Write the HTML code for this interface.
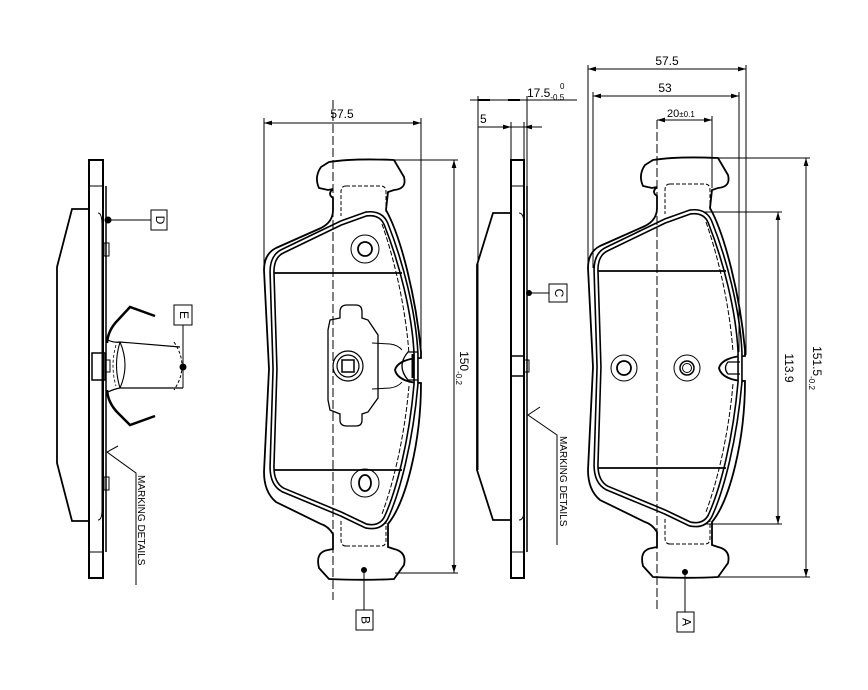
<!DOCTYPE html>
<html><head><meta charset="utf-8"><style>
html,body{margin:0;padding:0;background:#fff}
svg{display:block}
text{font-family:"Liberation Sans",sans-serif;fill:#000}
</style></head><body>
<svg width="868" height="690" viewBox="0 0 868 690" xmlns="http://www.w3.org/2000/svg">
<defs>
<marker id="ar" viewBox="0 0 10 6" refX="10" refY="3" markerWidth="8" markerHeight="5" orient="auto-start-reverse"><path d="M0,0 L10,3 L0,6 Z" fill="#000"/></marker>
<g id="plate">
  <path d="M653,160 C672,157 695,157 718,158 L728,175 Q731,187 718,188 L712,190 L710,208 C725,235 740,295 745,350 L745,356 C733,356 721,360 719,368 C721,377 733,381 745,381 C745,440 730,500 712,522 L712,545 L718,547 Q731,550 728,563 L718,577 C700,578 675,578 653,577 L643,566 Q639,550 652,548 L657,547 L657,532 Q652,524 645,522 L600,500 Q588,490 588,470 L593,367 L588,268 Q588,252 600,246 L645,226 Q657,220 657,208 L657,196 Q651,192 657,187 L652,188 L643,186 Q638,175 645,165 Z" fill="none" stroke="#000" stroke-width="1.8"/>
  <path d="M670,184 L705,184 Q710,184 710,190 L710,210 M670,184 Q665,184 665,190 L665,214 M670,544 L705,544 Q710,544 710,538 L710,520 M670,544 Q665,544 665,538 L665,518" fill="none" stroke="#000" stroke-width="1" stroke-dasharray="4,2"/>
  <path d="M665,221 L690,212 Q705,210 710,222 C725,260 738,310 740,352 L740,382 C735,440 722,490 710,516 Q704,527 690,524 L665,512 L607,488 Q596,482 596,465 L599,367 L596,270 Q596,254 607,249 Z" fill="none" stroke="#000" stroke-width="5.5"/>
  <path d="M665,221 L690,212 Q705,210 710,222 C725,260 738,310 740,352 L740,382 C735,440 722,490 710,516 Q704,527 690,524 L665,512 L607,488 Q596,482 596,465 L599,367 L596,270 Q596,254 607,249 Z" fill="none" stroke="#fff" stroke-width="2.3"/>
  <path d="M706,222 C720,262 730,310 733,352 M733,384 C728,440 716,485 706,512" fill="none" stroke="#000" stroke-width="1" stroke-dasharray="5,2"/>
  <line x1="598" y1="271" x2="726" y2="271" stroke="#000" stroke-width="1.8"/>
  <line x1="598" y1="468" x2="726" y2="468" stroke="#000" stroke-width="1.8"/>
</g>
</defs>

<!-- ===== Pad A (right) ===== -->
<use href="#plate"/>
<line x1="657" y1="120" x2="657" y2="610" stroke="#000" stroke-width="1" stroke-dasharray="9,3"/>
<circle cx="624" cy="368" r="13" fill="none" stroke="#000" stroke-width="1"/>
<circle cx="624" cy="368" r="7" fill="none" stroke="#000" stroke-width="1.8"/>
<circle cx="687" cy="368" r="13" fill="none" stroke="#000" stroke-width="1"/>
<circle cx="687" cy="368" r="7" fill="none" stroke="#000" stroke-width="1.5"/>
<circle cx="687" cy="368" r="4.5" fill="none" stroke="#000" stroke-width="1"/>
<path d="M740,362 L728,362 Q723,368 728,374 L740,374" fill="none" stroke="#000" stroke-width="1.3"/>
<circle cx="685" cy="572" r="3" fill="#000"/>
<line x1="685" y1="572" x2="685" y2="612" stroke="#000"/>
<rect x="677" y="612" width="17" height="20" fill="#fff" stroke="#000"/>
<text x="685.5" y="622" font-size="12" text-anchor="middle" dominant-baseline="middle" transform="rotate(90 685.5 622)">A</text>
<!-- dims A -->
<line x1="588" y1="65" x2="588" y2="268" stroke="#000"/>
<line x1="746" y1="65" x2="746" y2="355" stroke="#000"/>
<line x1="588" y1="69" x2="746" y2="69" stroke="#000" marker-start="url(#ar)" marker-end="url(#ar)"/>
<text x="667" y="65" font-size="12" text-anchor="middle">57.5</text>
<line x1="593" y1="92" x2="593" y2="268" stroke="#000"/>
<line x1="739" y1="92" x2="739" y2="352" stroke="#000"/>
<line x1="593" y1="96" x2="739" y2="96" stroke="#000" marker-start="url(#ar)" marker-end="url(#ar)"/>
<text x="665" y="92" font-size="12" text-anchor="middle">53</text>
<line x1="712" y1="116" x2="712" y2="188" stroke="#000"/>
<line x1="657" y1="120" x2="712" y2="120" stroke="#000" marker-start="url(#ar)" marker-end="url(#ar)"/>
<text x="667" y="117" font-size="11">20<tspan font-size="8">±0.1</tspan></text>
<line x1="708" y1="158" x2="810" y2="158" stroke="#000"/>
<line x1="712" y1="577" x2="810" y2="577" stroke="#000"/>
<line x1="806" y1="158" x2="806" y2="577" stroke="#000" marker-start="url(#ar)" marker-end="url(#ar)"/>
<text x="813" y="368" font-size="12" text-anchor="middle" transform="rotate(90 813 368)">151.5<tspan font-size="8" dy="4">-0.2</tspan></text>
<line x1="704" y1="212" x2="782" y2="212" stroke="#000"/>
<line x1="704" y1="524" x2="782" y2="524" stroke="#000"/>
<line x1="778" y1="212" x2="778" y2="524" stroke="#000" marker-start="url(#ar)" marker-end="url(#ar)"/>
<text x="785" y="368" font-size="12" text-anchor="middle" transform="rotate(90 785 368)">113.9</text>

<!-- ===== Pad B (middle) ===== -->
<g transform="translate(-324,2)"><use href="#plate"/></g>
<line x1="333" y1="100" x2="333" y2="600" stroke="#000" stroke-width="1" stroke-dasharray="9,3"/>
<circle cx="365" cy="249" r="14" fill="none" stroke="#000" stroke-width="1"/>
<circle cx="365" cy="249" r="7" fill="none" stroke="#000" stroke-width="1.8"/>
<circle cx="365" cy="483" r="14" fill="none" stroke="#000" stroke-width="1"/>
<ellipse cx="365" cy="483" rx="6" ry="8" fill="none" stroke="#000" stroke-width="1.8"/>
<path d="M340,318 L340,312 Q340,305 347,305 L356,305 Q362,305 362,312 L362,318 L368,320 L378,335 L378,398 L368,412 L362,414 L362,420 Q362,426 356,426 L347,426 Q340,426 340,420 L340,414 L330,410 L328,400 L328,330 L330,320 Z" fill="none" stroke="#000" stroke-width="1.3"/>
<circle cx="348" cy="366" r="15" fill="none" stroke="#000" stroke-width="1.2"/>
<circle cx="348" cy="366" r="11" fill="none" stroke="#000" stroke-width="1.2"/>
<rect x="342" y="360" width="12" height="12" fill="none" stroke="#000" stroke-width="1.5"/>
<path d="M372,343 L390,344 Q398,345 402,350 M372,389 L390,388 Q398,387 402,382" fill="none" stroke="#000" stroke-width="1"/>
<path d="M418,352 L408,352 Q396,366 408,380 L418,380" fill="none" stroke="#000" stroke-width="1.3"/>
<path d="M413,354 L413,378" stroke="#000" stroke-width="3"/>
<circle cx="364" cy="570" r="3" fill="#000"/>
<line x1="364" y1="570" x2="364" y2="610" stroke="#000"/>
<rect x="356" y="610" width="17" height="20" fill="#fff" stroke="#000"/>
<text x="364.5" y="620" font-size="12" text-anchor="middle" dominant-baseline="middle" transform="rotate(90 364.5 620)">B</text>
<line x1="264" y1="118" x2="264" y2="268" stroke="#000"/>
<line x1="421" y1="118" x2="421" y2="352" stroke="#000"/>
<line x1="264" y1="123" x2="421" y2="123" stroke="#000" marker-start="url(#ar)" marker-end="url(#ar)"/>
<text x="342" y="118" font-size="12" text-anchor="middle">57.5</text>
<line x1="395" y1="160" x2="458" y2="160" stroke="#000"/>
<line x1="395" y1="573" x2="458" y2="573" stroke="#000"/>
<line x1="454" y1="160" x2="454" y2="573" stroke="#000" marker-start="url(#ar)" marker-end="url(#ar)"/>
<text x="460" y="368" font-size="12" text-anchor="middle" transform="rotate(90 460 368)">150<tspan font-size="8" dy="4">-0.2</tspan></text>

<!-- ===== Side view C ===== -->
<rect x="511" y="160" width="13" height="418" fill="none" stroke="#000" stroke-width="2"/>
<line x1="527" y1="186" x2="527" y2="552" stroke="#000" stroke-width="1.5"/>
<line x1="511" y1="186" x2="524" y2="186" stroke="#000"/>
<line x1="511" y1="552" x2="524" y2="552" stroke="#000"/>
<path d="M519,213 Q524,213 524,225 L524,510 Q524,520 519,520" fill="none" stroke="#000"/>
<path d="M511,213 L493,213 L477,265 L477,470 L493,520 L511,520" fill="none" stroke="#000" stroke-width="1.8"/>
<rect x="511" y="356" width="13" height="20" fill="none" stroke="#000" stroke-width="1.5"/>
<rect x="524" y="360" width="5" height="12" fill="none" stroke="#000"/>
<circle cx="529" cy="293" r="3" fill="#000"/>
<line x1="529" y1="293" x2="549" y2="293" stroke="#000"/>
<rect x="549" y="284" width="18" height="18" fill="#fff" stroke="#000"/>
<text x="558" y="293" font-size="12" text-anchor="middle" dominant-baseline="middle" transform="rotate(90 558 293)">C</text>
<path d="M540,407 L528,415 L557,435 L557,545" fill="none" stroke="#000"/>
<text x="560" y="436" font-size="10" transform="rotate(90 560 436)">MARKING  DETAILS</text>
<!-- dims top -->
<line x1="478" y1="96" x2="478" y2="470" stroke="#000"/>
<line x1="527" y1="96" x2="527" y2="186" stroke="#000"/>
<line x1="470" y1="100" x2="577" y2="100" stroke="#000"/>
<line x1="478" y1="100" x2="490" y2="100" stroke="#000" stroke-width="2"/>
<line x1="508" y1="100" x2="520" y2="100" stroke="#000" stroke-width="2"/>
<text x="527" y="97" font-size="12">17.5<tspan font-size="8" dy="3">-0.5</tspan></text>
<text x="560" y="89" font-size="8">0</text>
<line x1="511" y1="122" x2="511" y2="160" stroke="#000"/>
<line x1="524" y1="122" x2="524" y2="160" stroke="#000"/>
<line x1="478" y1="127" x2="542" y2="127" stroke="#000"/>
<line x1="500" y1="127" x2="511" y2="127" stroke="#000" marker-end="url(#ar)"/>
<line x1="535" y1="127" x2="524" y2="127" stroke="#000" marker-end="url(#ar)"/>
<text x="480" y="123" font-size="12">5</text>

<!-- ===== Side view left (D/E) ===== -->
<rect x="89" y="160" width="14" height="418" fill="none" stroke="#000" stroke-width="2"/>
<line x1="89" y1="186" x2="103" y2="186" stroke="#000"/>
<line x1="89" y1="552" x2="103" y2="552" stroke="#000"/>
<line x1="106" y1="186" x2="106" y2="552" stroke="#000" stroke-width="1.5"/>
<path d="M98,213 Q102,213 102,225 L102,510 Q102,520 98,520" fill="none" stroke="#000"/>
<path d="M89,209 L72,209 L57,267 L57,463 L72,521 L89,521" fill="none" stroke="#000" stroke-width="1.8"/>
<rect x="104" y="243" width="5" height="13" fill="none" stroke="#000"/>
<rect x="104" y="477" width="5" height="13" fill="none" stroke="#000"/>
<rect x="92" y="353" width="13" height="27" fill="none" stroke="#000" stroke-width="1.5"/>
<rect x="105" y="360" width="5" height="12" fill="none" stroke="#000"/>
<path d="M107,343 Q108,330 118,320 L130,307 L155,316 M107,390 Q108,403 118,413 L130,425 L155,416" fill="none" stroke="#000" stroke-width="2.5"/>
<path d="M108,340 Q114,343 120,342 M108,392 Q114,389 120,388" fill="none" stroke="#000" stroke-width="1.2"/>
<path d="M120,342 L180,347 M120,388 L183,388" fill="none" stroke="#000" stroke-width="1.2"/>
<path d="M120,342 Q113,365 120,388 M120,342 Q130,365 120,388" fill="none" stroke="#000" stroke-width="1.1"/>
<path d="M116,345 Q110,366 116,386" fill="none" stroke="#000" stroke-width="0.8" stroke-dasharray="3,2"/>
<path d="M174,342 Q190,366 174,390" fill="none" stroke="#000" stroke-width="1" stroke-dasharray="3,2"/>
<circle cx="108" cy="220" r="3.5" fill="#000"/>
<line x1="108" y1="220" x2="151" y2="220" stroke="#000"/>
<rect x="151" y="210" width="16" height="20" fill="#fff" stroke="#000"/>
<text x="159" y="220" font-size="12" text-anchor="middle" dominant-baseline="middle" transform="rotate(90 159 220)">D</text>
<circle cx="183" cy="367" r="3.5" fill="#000"/>
<path d="M183,388 L183,325" fill="none" stroke="#000"/>
<rect x="174" y="305" width="18" height="20" fill="#fff" stroke="#000"/>
<text x="183" y="315" font-size="12" text-anchor="middle" dominant-baseline="middle" transform="rotate(90 183 315)">E</text>
<path d="M118,446 L107,452 L136,473 L136,585" fill="none" stroke="#000"/>
<text x="138" y="475" font-size="10" transform="rotate(90 138 475)">MARKING  DETAILS</text>
</svg>
</body></html>
